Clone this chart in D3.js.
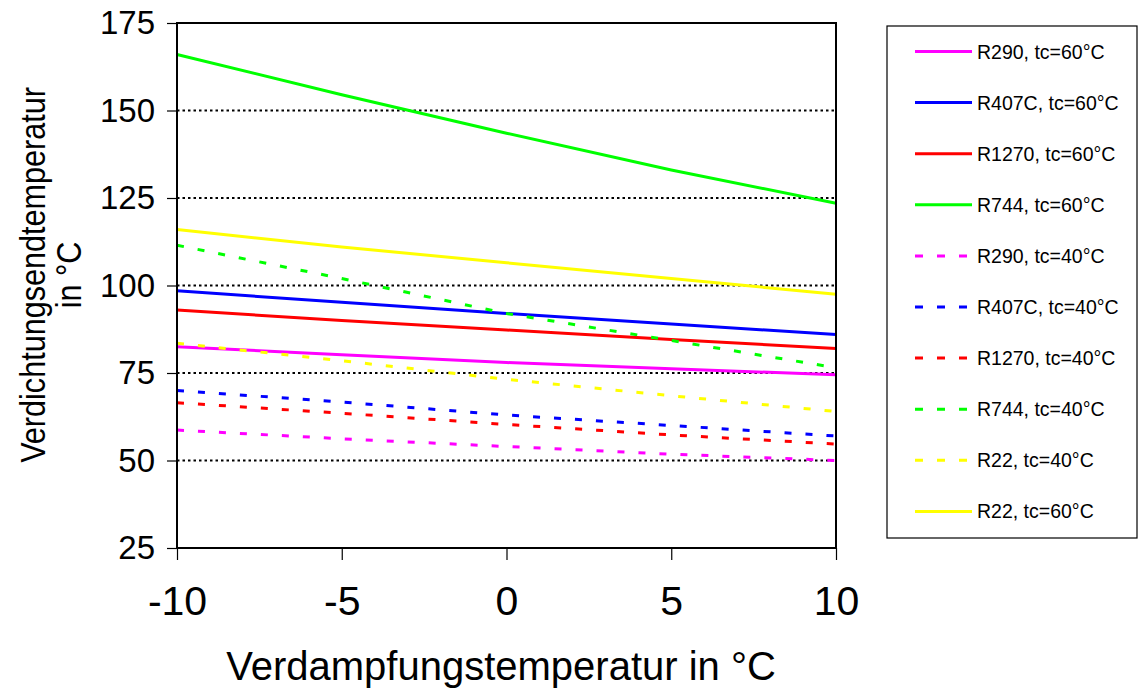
<!DOCTYPE html>
<html><head><meta charset="utf-8">
<script src="https://cdn.jsdelivr.net/npm/d3@7"></script>
<style>body{margin:0;background:#fff;} text{font-family:"Liberation Sans",Arial,sans-serif;fill:#000;}</style>
</head><body>
<svg id="chart" width="1139" height="689"></svg>
<script>
const xValues = [-10, -5, 0, 5, 10];
const xTicks = [-10, -5, 0, 5, 10];
const yTicks = [25, 50, 75, 100, 125, 150, 175];
const gridValues = [50, 75, 100, 125, 150];

const seriesNames = ["R290, tc=60°C","R407C, tc=60°C","R1270, tc=60°C","R744, tc=60°C","R290, tc=40°C","R407C, tc=40°C","R1270, tc=40°C","R744, tc=40°C","R22, tc=40°C","R22, tc=60°C"];
const seriesColors = ["#FF00FF","#0000FF","#FF0000","#00FF00","#FF00FF","#0000FF","#FF0000","#00FF00","#FFFF00","#FFFF00"];
const seriesDashed = [false,false,false,false,true,true,true,true,true,false];

const r290_60 = [82.5, 80.2, 78, 76.2, 74.5];
const r407c_60 = [98.5, 95.2, 92, 89, 86];
const r1270_60 = [93, 90, 87.3, 84.6, 82];
const r744_60 = [166, 154.5, 143.5, 133, 123.5];
const r290_40 = [58.7, 56.2, 54, 51.8, 50];
const r407c_40 = [70, 66.7, 63, 60, 57];
const r1270_40 = [66.5, 63.5, 60.3, 57.3, 54.7];
const r744_40 = [111.5, 102, 92, 84.3, 76.5];
const r22_40 = [83.5, 78.5, 73.2, 68.5, 64];
const r22_60 = [116, 111, 106.5, 102, 97.5];
const seriesValues = [r290_60, r407c_60, r1270_60, r744_60, r290_40, r407c_40, r1270_40, r744_40, r22_40, r22_60];

const svg = d3.select("#chart");
const L = 177, R = 836, T = 23, B = 548;
const x = d3.scaleLinear().domain([-10, 10]).range([L, R]);
const y = d3.scaleLinear().domain([25, 175]).range([B, T]);

// grid
svg.append("g").selectAll("line").data(gridValues).join("line")
  .attr("x1", L).attr("x2", R).attr("y1", d => y(d)).attr("y2", d => y(d))
  .attr("stroke", "#000").attr("stroke-width", 2).attr("stroke-dasharray", "2.5,3");

// series
const line = d3.line().x((d, i) => x(xValues[i])).y(d => y(d));
svg.append("g").selectAll("path").data(seriesValues).join("path")
  .attr("d", d => line(d)).attr("fill", "none")
  .attr("stroke", (d, i) => seriesColors[i]).attr("stroke-width", 3)
  .attr("stroke-dasharray", (d, i) => seriesDashed[i] ? "7,14" : null);

// border
svg.append("rect").attr("x", L).attr("y", T).attr("width", R - L).attr("height", B - T)
  .attr("fill", "none").attr("stroke", "#000").attr("stroke-width", 2);

// axes
const yAxis = d3.axisLeft(y).tickValues(yTicks).tickSize(10).tickPadding(12).tickFormat(d => String(d));
const gy = svg.append("g").attr("transform", `translate(${L},0)`).call(yAxis);
gy.select(".domain").remove();
gy.selectAll("line").attr("stroke", "#000").attr("stroke-width", 1.2);
gy.selectAll("text").attr("font-size", 33).attr("font-family", "Liberation Sans, Arial, sans-serif");

const xAxis = d3.axisBottom(x).tickValues(xTicks).tickSize(12).tickPadding(26).tickFormat(d => String(d));
const gx = svg.append("g").attr("transform", `translate(0,${B})`).call(xAxis);
gx.select(".domain").remove();
gx.selectAll("line").attr("stroke", "#000").attr("stroke-width", 1.2);
gx.selectAll("text").attr("font-size", 41).attr("font-family", "Liberation Sans, Arial, sans-serif");

// axis titles
svg.append("text").attr("x", 501).attr("y", 680).attr("text-anchor", "middle")
  .attr("font-size", 40).text("Verdampfungstemperatur in °C");
const yt = svg.append("text").attr("transform", "translate(45,275) rotate(-90) scale(0.85,1)")
  .attr("text-anchor", "middle").attr("font-size", 36);
yt.append("tspan").attr("x", 0).attr("y", 0).text("Verdichtungsendtemperatur");
yt.append("tspan").attr("x", 0).attr("y", 36).text("in °C");

// legend
const lg = svg.append("g");
lg.append("rect").attr("x", 887).attr("y", 26).attr("width", 250).attr("height", 512)
  .attr("fill", "#fff").attr("stroke", "#000").attr("stroke-width", 1.2);
const items = lg.selectAll("g.item").data(seriesNames).join("g").attr("class", "item")
  .attr("transform", (d, i) => `translate(0,${51.5 + i * 51.1})`);
items.append("line").attr("x1", 915).attr("x2", 972).attr("y1", 0).attr("y2", 0)
  .attr("stroke", (d, i) => seriesColors[i]).attr("stroke-width", 3)
  .attr("stroke-dasharray", (d, i) => seriesDashed[i] ? "8,14" : null);
items.append("text").attr("x", 977).attr("y", 7).attr("font-size", 19.5).text(d => d);
</script>
</body></html>
